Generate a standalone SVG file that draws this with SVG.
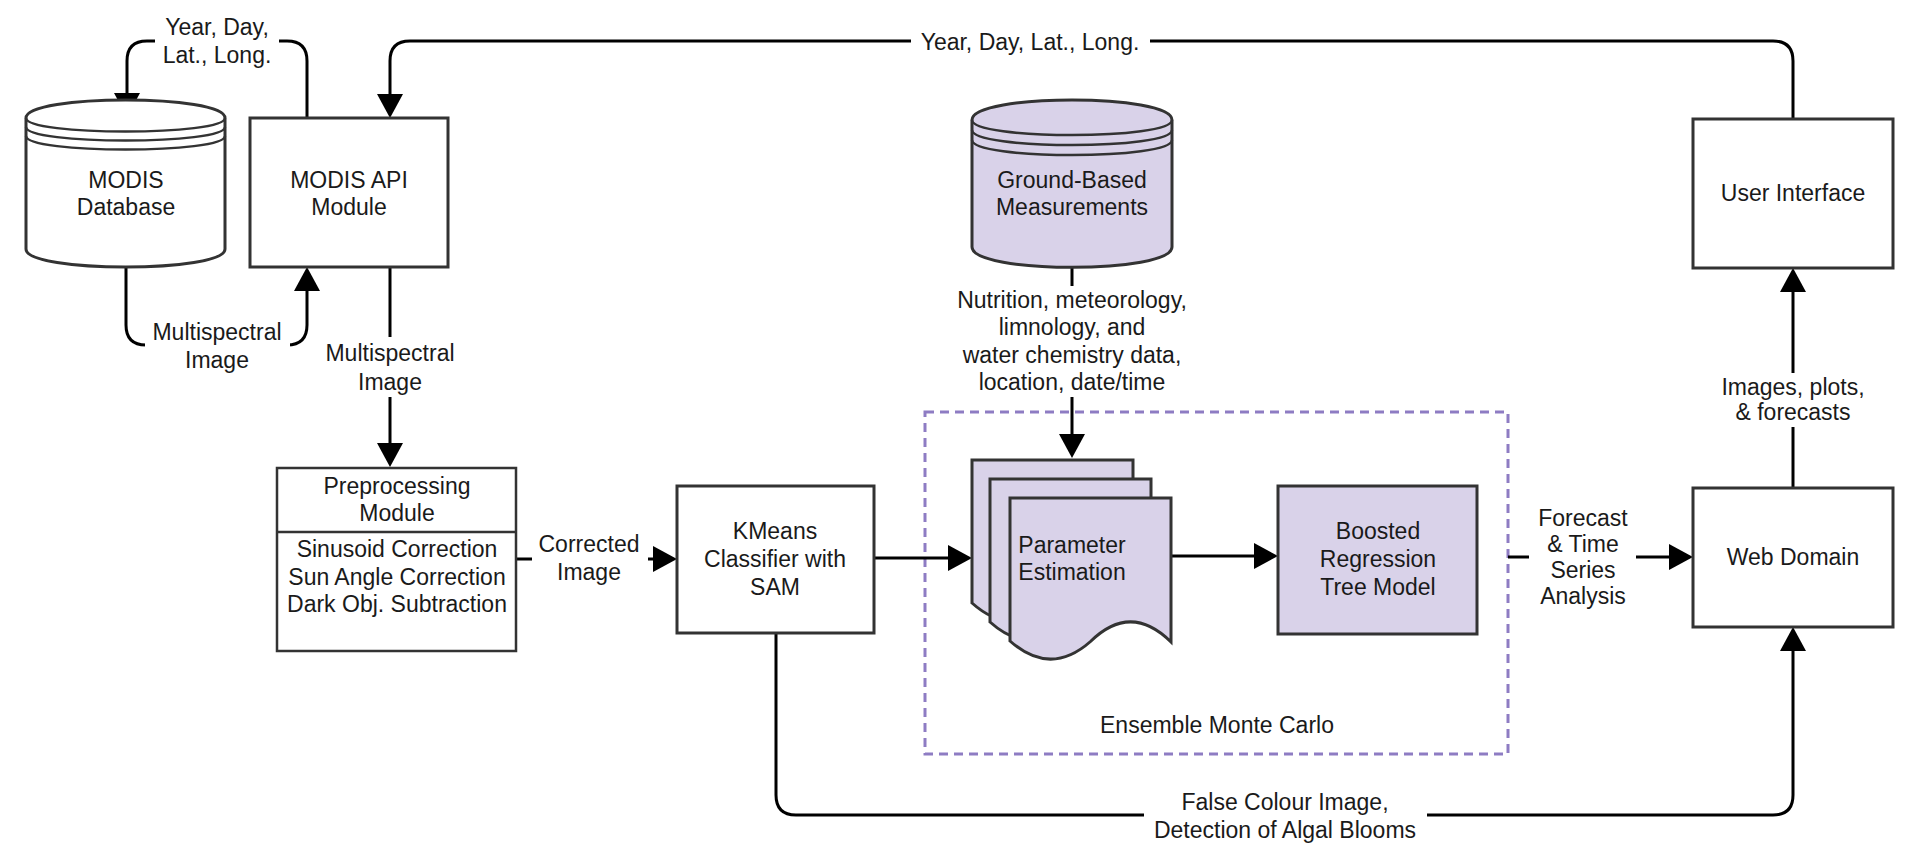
<svg xmlns="http://www.w3.org/2000/svg" width="1906" height="865" viewBox="0 0 1906 865">
<style>
  text { font-family: "Liberation Sans", Arial, sans-serif; font-size: 23px; fill: #1a1a1a; text-anchor: middle; }
  .box { fill: #ffffff; stroke: #333333; stroke-width: 3; }
  .lav { fill: #d9d2e9; stroke: #333333; stroke-width: 3; }
  .thin { fill: none; stroke: #333333; stroke-width: 2.5; }
  .edge { fill: none; stroke: #000000; stroke-width: 3; marker-end: url(#arr); }
  .bg { fill: #ffffff; }
  .group { fill: none; stroke: #8e7cc3; stroke-width: 3; stroke-dasharray: 9 6; }
</style>
<defs>
  <marker id="arr" markerUnits="userSpaceOnUse" viewBox="0 0 24 26" refX="14" refY="13" markerWidth="24" markerHeight="26" orient="auto">
    <path d="M0,0 L24,13 L0,26 z" fill="#000000"/>
  </marker>
</defs>
<rect x="0" y="0" width="1906" height="865" fill="#ffffff"/>

<g id="ensemble-group">
  <rect class="group" x="925" y="412" width="583" height="342"/>
  <text x="1217" y="733">Ensemble Monte Carlo</text>
</g>

<g id="connectors">
  <path class="edge" d="M307,118 V61 Q307,41 287,41 H147 Q127,41 127,61 V107"/>
  <path class="edge" d="M126,267 V325 Q126,345 146,345 H287 Q307,345 307,325 V277"/>
  <path class="edge" d="M390,267 V457"/>
  <path class="edge" d="M516,559 H667"/>
  <path class="edge" d="M874,558 H962"/>
  <path class="edge" d="M1072,267 V448"/>
  <path class="edge" d="M1155,556 H1268"/>
  <path class="edge" d="M1508,557 H1683"/>
  <path class="edge" d="M1793,488 V278"/>
  <path class="edge" d="M1793,119 V61 Q1793,41 1773,41 H410 Q390,41 390,61 V108"/>
  <path class="edge" d="M776,633 V795 Q776,815 796,815 H1773 Q1793,815 1793,795 V637"/>
</g>

<g id="edge-labels">
  <rect class="bg" x="155" y="12" width="124" height="58"/>
  <text x="217" y="35">Year, Day,</text>
  <text x="217" y="63">Lat., Long.</text>

  <rect class="bg" x="145" y="316" width="145" height="58"/>
  <text x="217" y="340">Multispectral</text>
  <text x="217" y="368">Image</text>

  <rect class="bg" x="322" y="337" width="136" height="60"/>
  <text x="390" y="361">Multispectral</text>
  <text x="390" y="390">Image</text>

  <rect class="bg" x="532" y="528" width="116" height="60"/>
  <text x="589" y="552">Corrected</text>
  <text x="589" y="580">Image</text>

  <rect class="bg" x="950" y="286" width="244" height="111"/>
  <text x="1072" y="308">Nutrition, meteorology,</text>
  <text x="1072" y="335">limnology, and</text>
  <text x="1072" y="363">water chemistry data,</text>
  <text x="1072" y="390">location, date/time</text>

  <rect class="bg" x="1529" y="503" width="107" height="108"/>
  <text x="1583" y="526">Forecast</text>
  <text x="1583" y="552">&amp; Time</text>
  <text x="1583" y="578">Series</text>
  <text x="1583" y="604">Analysis</text>

  <rect class="bg" x="1718" y="373" width="152" height="54"/>
  <text x="1793" y="395">Images, plots,</text>
  <text x="1793" y="420">&amp; forecasts</text>

  <rect class="bg" x="911" y="28" width="239" height="28"/>
  <text x="1030" y="50">Year, Day, Lat., Long.</text>

  <rect class="bg" x="1144" y="787" width="283" height="58"/>
  <text x="1285" y="810">False Colour Image,</text>
  <text x="1285" y="838">Detection of Algal Blooms</text>
</g>

<g id="modis-database">
  <path class="box" d="M26,118 C26,94 225,94 225,118 V249 C225,273 26,273 26,249 Z"/>
  <path class="thin" d="M26,118 C26,136 225,136 225,118 M26,127 C26,145 225,145 225,127 M26,136 C26,154 225,154 225,136"/>
  <text x="126" y="188">MODIS</text>
  <text x="126" y="215">Database</text>
</g>

<g id="modis-api">
  <rect class="box" x="250" y="118" width="198" height="149"/>
  <text x="349" y="188">MODIS API</text>
  <text x="349" y="215">Module</text>
</g>

<g id="preprocessing">
  <rect class="thin" x="277" y="468" width="239" height="183" fill="#ffffff"/>
  <line x1="277" y1="532" x2="516" y2="532" stroke="#333333" stroke-width="2.5"/>
  <text x="397" y="494">Preprocessing</text>
  <text x="397" y="521">Module</text>
  <text x="397" y="557">Sinusoid Correction</text>
  <text x="397" y="585">Sun Angle Correction</text>
  <text x="397" y="612">Dark Obj. Subtraction</text>
</g>

<g id="kmeans">
  <rect class="box" x="677" y="486" width="197" height="147"/>
  <text x="775" y="539">KMeans</text>
  <text x="775" y="567">Classifier with</text>
  <text x="775" y="595">SAM</text>
</g>

<g id="ground-based">
  <path class="lav" d="M972,120 C972,93.3 1172,93.3 1172,120 V247 C1172,274 972,274 972,247 Z"/>
  <path class="thin" d="M972,120 C972,140 1172,140 1172,120 M972,130 C972,150 1172,150 1172,130 M972,140 C972,160 1172,160 1172,140"/>
  <text x="1072" y="188">Ground-Based</text>
  <text x="1072" y="215">Measurements</text>
</g>

<g id="parameter-estimation">
  <path class="lav" transform="translate(972,460)" d="M0,0 H161 V144 Q120.75,104 80.5,143.5 Q40.25,179 0,143 Z"/>
  <path class="lav" transform="translate(990,479)" d="M0,0 H161 V144 Q120.75,104 80.5,143.5 Q40.25,179 0,143 Z"/>
  <path class="lav" transform="translate(1010,498)" d="M0,0 H161 V144 Q120.75,104 80.5,143.5 Q40.25,179 0,143 Z"/>
  <text x="1072" y="553">Parameter</text>
  <text x="1072" y="580">Estimation</text>
</g>

<g id="boosted-tree">
  <rect class="lav" x="1278" y="486" width="199" height="148"/>
  <text x="1378" y="539">Boosted</text>
  <text x="1378" y="567">Regression</text>
  <text x="1378" y="595">Tree Model</text>
</g>

<g id="user-interface">
  <rect class="box" x="1693" y="119" width="200" height="149"/>
  <text x="1793" y="201">User Interface</text>
</g>

<g id="web-domain">
  <rect class="box" x="1693" y="488" width="200" height="139"/>
  <text x="1793" y="565">Web Domain</text>
</g>
</svg>
